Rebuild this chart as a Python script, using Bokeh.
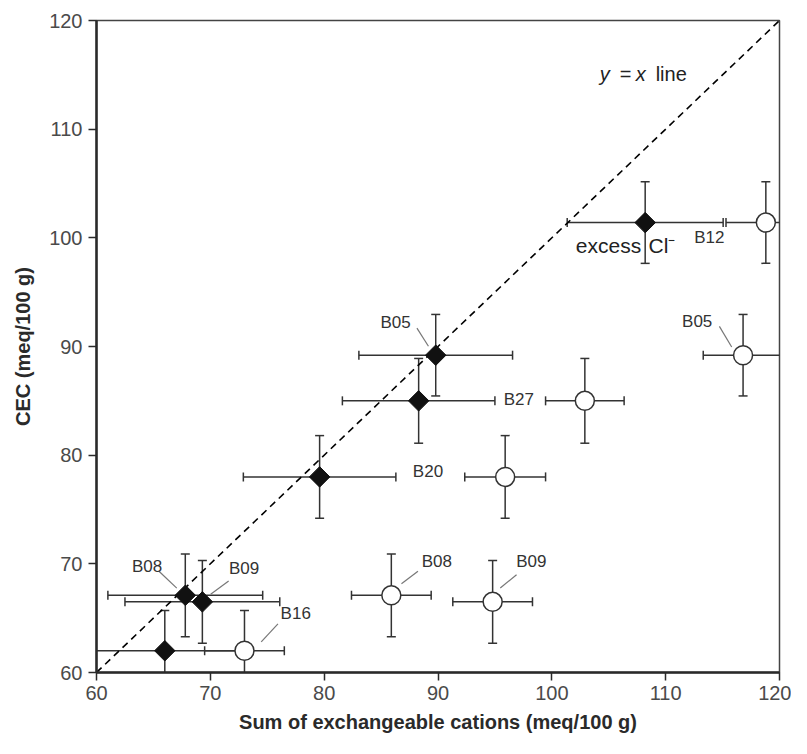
import math
from bokeh.plotting import figure
from bokeh.models import ColumnDataSource, Whisker, TeeHead, Range1d, FixedTicker
from bokeh.core.properties import value
from bokeh.embed import file_html
from bokeh.resources import INLINE

# ---- data ----
samples = ["B16", "B08", "B09", "B20", "B27", "B05", "B12"]
cec = [62.0, 67.1, 66.5, 78.0, 85.0, 89.2, 101.4]
cec_err = [3.7, 3.8, 3.8, 3.8, 3.9, 3.75, 3.75]
# filled diamonds (corrected for excess Cl-)
sum_corr = [66.0, 67.8, 69.3, 79.6, 88.3, 89.8, 108.2]
sum_corr_err = [6.8, 6.8, 6.8, 6.7, 6.7, 6.75, 6.85]
# open circles
sum_raw = [73.0, 85.9, 94.8, 95.9, 102.9, 116.8, 118.8]
sum_raw_err = [3.5, 3.5, 3.5, 3.55, 3.45, 3.5, 3.5]
x_ticks = [60, 70, 80, 90, 100, 110, 120]
y_ticks = [60, 70, 80, 90, 100, 110, 120]

FONT = "Liberation Sans"
DARK = "#2a2a2a"

p = figure(width=791, height=738, output_backend="svg", toolbar_location=None,
           x_range=Range1d(60, 120), y_range=Range1d(60, 120),
           min_border_left=96, min_border_right=12, min_border_top=20, min_border_bottom=66)
p.background_fill_color = "white"
p.border_fill_color = "white"
p.grid.visible = False
p.outline_line_color = "#444444"
p.outline_line_width = 1.5

for ax, ticks in ((p.xaxis, x_ticks), (p.yaxis, y_ticks)):
    ax.ticker = FixedTicker(ticks=ticks)
    ax.axis_line_width = 2.5
    ax.axis_line_color = DARK
    ax.major_tick_line_color = DARK
    ax.major_tick_line_width = 1.5
    ax.major_tick_out = 8
    ax.major_tick_in = 0
    ax.minor_tick_line_color = None
    ax.major_label_text_font = FONT
    ax.major_label_text_font_size = "20px"
    ax.major_label_text_color = "#4a4a4a"
    ax.axis_label_text_font = FONT
    ax.axis_label_text_font_style = "bold"
    ax.axis_label_text_font_size = "20px"
    ax.axis_label_text_color = DARK

p.xaxis.axis_label = "Sum of exchangeable cations (meq/100 g)"
p.yaxis.axis_label = "CEC (meq/100 g)"
p.xaxis.major_label_standoff = 5
p.yaxis.major_label_standoff = 6
p.xaxis.axis_label_standoff = 8
p.yaxis.axis_label_standoff = 12

# y = x line
p.line(x=[x_ticks[0], x_ticks[-1]], y=[y_ticks[0], y_ticks[-1]], line_color="black",
       line_width=1.6, line_dash="7 5")

def add_series(xs, xerr):
    src = ColumnDataSource(dict(
        x=xs, y=cec,
        xl=[a - e for a, e in zip(xs, xerr)], xu=[a + e for a, e in zip(xs, xerr)],
        yl=[a - e for a, e in zip(cec, cec_err)], yu=[a + e for a, e in zip(cec, cec_err)],
    ))
    for base, lo, up, dim in (("y", "xl", "xu", "width"), ("x", "yl", "yu", "height")):
        w = Whisker(source=src, base=base, lower=lo, upper=up, dimension=dim,
                    line_color="#333333", line_width=1.5,
                    lower_head=TeeHead(size=9, line_color="#333333", line_width=1.5),
                    upper_head=TeeHead(size=9, line_color="#333333", line_width=1.5))
        p.add_layout(w)
    return src

src_corr = add_series(sum_corr, sum_corr_err)
src_raw = add_series(sum_raw, sum_raw_err)

p.scatter(x="x", y="y", source=src_corr, marker="square", size=14.5, angle=math.pi / 4,
          fill_color="#111111", line_color="#111111", line_width=1)
p.scatter(x="x", y="y", source=src_raw, marker="circle", size=19,
          fill_color="white", line_color="#333333", line_width=1.5)

# ---- sample labels: (sample, series, text dx, dy, leader start dx, dy, leader end dx, dy) ----
labels = [
    ("B08", "corr", -3.35, 2.68, (-2.31, 2.22, -0.75, 0.67)),
    ("B09", "corr", 3.67, 3.04, (2.31, 1.92, 0.73, 0.70)),
    ("B16", "raw", 4.5, 3.47, (2.94, 2.47, 1.47, 0.82)),
    ("B08", "raw", 4.0, 3.13, (2.34, 2.22, 0.89, 1.06)),
    ("B09", "raw", 3.4, 3.72, (2.1, 2.5, 0.67, 1.28)),
    ("B20", "corr", 9.52, 0.46, None),
    ("B27", "corr", 8.8, 0.15, None),
    ("B05", "corr", -3.52, 3.04, (-1.65, 2.49, -0.64, 0.82)),
    ("B05", "raw", -4.03, 3.13, (-2.08, 2.65, -1.0, 0.76)),
    ("B12", "raw", -4.96, -1.37, None),
]
tx, ty, tt = [], [], []
lx0, ly0, lx1, ly1 = [], [], [], []
for name, series, dx, dy, leader in labels:
    i = samples.index(name)
    px = sum_corr[i] if series == "corr" else sum_raw[i]
    py = cec[i]
    tx.append(px + dx); ty.append(py + dy); tt.append(name)
    if leader:
        lx0.append(px + leader[0]); ly0.append(py + leader[1])
        lx1.append(px + leader[2]); ly1.append(py + leader[3])

p.segment(x0=lx0, y0=ly0, x1=lx1, y1=ly1, line_color="#777777", line_width=1.2)
p.text(x=tx, y=ty, text=tt, text_font=value(FONT), text_font_size="17px",
       text_align="center", text_baseline="middle", text_color="#333333")

# "excess Cl-" annotation next to B12 diamond
i12 = samples.index("B12")
p.text(x=[sum_corr[i12] - 0.35], y=[cec[i12] - 2.1], text=["excess"], text_font=value(FONT),
       text_font_size="21px", text_align="right", text_baseline="middle", text_color="#222222")
p.text(x=[sum_corr[i12] + 0.3], y=[cec[i12] - 2.1], text=["Cl⁻"], text_font=value(FONT),
       text_font_size="21px", text_align="left", text_baseline="middle", text_color="#222222")

# "y = x line" annotation
ann_x, ann_y = 104.2, 115.1
parts = [("y", "italic", 0), ("=", "normal", 20), ("x", "italic", 36), ("line", "normal", 56)]
for txt, style, off in parts:
    p.text(x=[ann_x], y=[ann_y], text=[txt], x_offset=off, text_font=value(FONT),
           text_font_size="20px", text_font_style=style, text_align="left",
           text_baseline="middle", text_color="#222222")

open("out.html", "w").write(file_html(p, INLINE))
